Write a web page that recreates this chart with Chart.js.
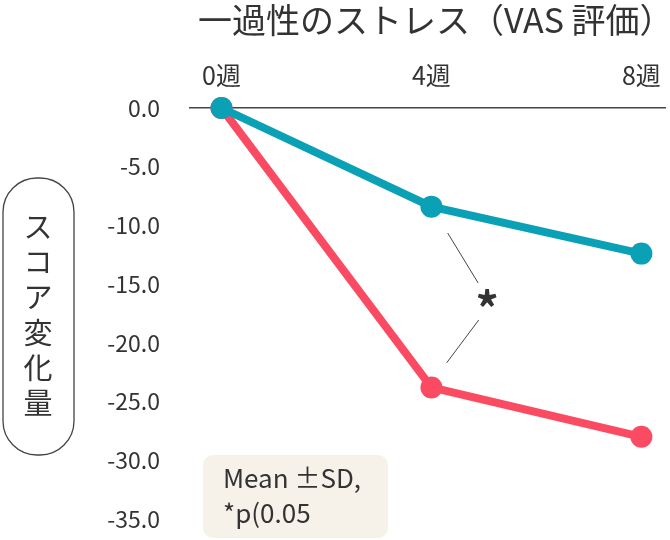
<!DOCTYPE html>
<html lang="ja">
<head>
<meta charset="utf-8">
<script src="https://cdn.jsdelivr.net/npm/chart.js@4/dist/chart.umd.min.js"></script>
<style>
html,body{margin:0;padding:0;background:#fff}
#wrap{position:relative;width:670px;height:540px}
</style>
</head>
<body>
<div id="wrap"><canvas id="c" width="670" height="540"></canvas></div>
<script>
'use strict';
// ══ 一過性のストレス (VAS) — スコア変化量 ══
const weeks=[0,4,8];
const weekLabels=['0週','4週','8週'];
const tealVals=[0,-8.4,-12.4];
const redVals=[0,-23.8,-28.0];
const yTicks=[0,-5,-10,-15,-20,-25,-30,-35];
const TITLE='一過性のストレス（VAS 評価）';
const YLABEL=['ス','コ','ア','変','化','量'];
const NOTE=['Mean ±SD,','*p(0.05'];

const FONT='"Noto Sans CJK JP","Noto Sans",sans-serif';
const INK='#333';

const deco={
  id:'deco',
  afterDraw(ch){
    const c=ch.ctx,x=ch.scales.x,y=ch.scales.y;
    c.save();
    // title
    c.fillStyle=INK;c.font='34px '+FONT;c.textAlign='left';c.textBaseline='middle';
    c.fillText(TITLE,198,20);
    // y label pill
    c.strokeStyle='#444';c.lineWidth=1.3;
    c.beginPath();c.roundRect(3,178,71,277,34);c.stroke();
    c.font='29px '+FONT;c.textAlign='center';
    YLABEL.forEach((t,i)=>c.fillText(t,38,227+i*35.2));
    // significance marker between groups at 4週
    c.strokeStyle='#444';c.lineWidth=1;
    c.beginPath();
    c.moveTo(x.getPixelForValue(4.31),y.getPixelForValue(-10.65));c.lineTo(x.getPixelForValue(4.89),y.getPixelForValue(-14.9));
    c.moveTo(x.getPixelForValue(4.29),y.getPixelForValue(-21.7));c.lineTo(x.getPixelForValue(4.9),y.getPixelForValue(-18.06));
    c.stroke();
    c.fillStyle=INK;c.font='bold 46px '+FONT;
    c.fillText('*',x.getPixelForValue(5.06),y.getPixelForValue(-16.35)+9);
    // note box
    c.fillStyle='#f6f2ea';
    c.beginPath();c.roundRect(203,455,185,83,10);c.fill();
    c.fillStyle=INK;c.font='26px '+FONT;c.textAlign='left';
    NOTE.forEach((t,i)=>c.fillText(t,223,478+i*35));
    c.restore();
  }
};

new Chart(document.getElementById('c'),{
  type:'line',
  data:{datasets:[
    {label:'A',data:weeks.map((w,i)=>({x:w,y:tealVals[i]})),borderColor:'#0aa0b6',backgroundColor:'#0aa0b6',borderWidth:8,pointRadius:11,pointHoverRadius:11,pointBorderWidth:0,clip:false},
    {label:'B',data:weeks.map((w,i)=>({x:w,y:redVals[i]})),borderColor:'#fb4b62',backgroundColor:'#fb4b62',borderWidth:8,pointRadius:11,pointHoverRadius:11,pointBorderWidth:0,clip:false}
  ]},
  options:{
    responsive:false,animation:false,
    layout:{autoPadding:false,padding:{left:0,right:5,top:0,bottom:21}},
    plugins:{legend:{display:false},tooltip:{enabled:false},title:{display:false}},
    scales:{
      x:{type:'linear',position:'top',min:-0.6,max:8.45,
        afterBuildTicks:s=>{s.ticks=weeks.map(v=>({value:v}))},
        afterFit:s=>{s.height=108;s.paddingLeft=0;s.paddingRight=0},
        ticks:{padding:18,color:INK,font:{family:FONT,size:25},callback:v=>weekLabels[weeks.indexOf(v)]??''},
        grid:{display:false,drawTicks:false},
        border:{display:true,color:'#444',width:1.5}},
      y:{type:'linear',min:-35,max:0,
        afterBuildTicks:s=>{s.ticks=yTicks.map(v=>({value:v}))},
        afterFit:s=>{s.width=190;s.paddingTop=0;s.paddingBottom=0},
        ticks:{padding:30,color:INK,font:{family:FONT,size:23},callback:v=>v.toFixed(1)},
        grid:{display:false,drawTicks:false},
        border:{display:false}}
    }
  },
  plugins:[deco]
});
</script>
</body>
</html>
